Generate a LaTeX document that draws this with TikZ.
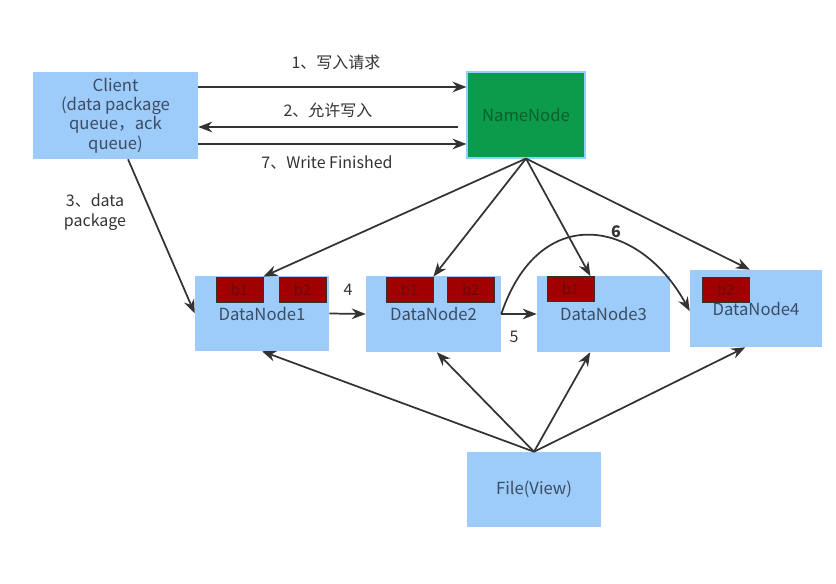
\documentclass[tikz,border=0pt]{standalone}
\usepackage{fontspec}
\setmainfont{Noto Sans CJK SC}
\usetikzlibrary{arrows.meta,calc}
\definecolor{boxblue}{HTML}{9DCBFA}
\definecolor{nngreen}{HTML}{0C9B4B}
\definecolor{nntext}{HTML}{0A5F2E}
\definecolor{txtblue}{HTML}{3B4D63}
\definecolor{blk}{HTML}{A00000}
\definecolor{blktext}{HTML}{6E0A0A}
\definecolor{arr}{HTML}{333333}
\begin{document}
\begin{tikzpicture}[x=0.75pt,y=-0.75pt,
  bluebox/.style={fill=boxblue,draw=none,text=txtblue,font=\fontsize{12.5}{14.5}\selectfont,align=center,inner sep=0pt},
  blockbox/.style={fill=blk,draw=black!80,line width=0.6pt,minimum width=35.25pt,minimum height=18.75pt,inner sep=0pt,text=blktext,font=\fontsize{11}{12}\selectfont},
  conn/.style={draw=arr,line width=1.3pt,-{Stealth[length=10.5pt,width=8pt]}},
  lbl/.style={text=arr,font=\fontsize{12}{15}\selectfont,align=center,inner sep=0pt}]
\useasboundingbox (0,0) rectangle (836,584);
\fill[white] (0,0) rectangle (836,584);

\node[bluebox,minimum width=123.75pt,minimum height=65.25pt] (client) at (115.5,115.5) {Client\\(data package\\queue，ack\\queue)};
\node[fill=nngreen,draw=boxblue,line width=0.8pt,minimum width=88.5pt,minimum height=64.5pt,text=nntext,font=\fontsize{12.5}{14}\selectfont,inner sep=0pt] (nn) at (526,115) {NameNode};

\node[bluebox,minimum width=100.5pt,minimum height=56.25pt] (d1) at (262,313.5) {\raisebox{-3pt}{DataNode1}};
\node[bluebox,minimum width=101.25pt,minimum height=57pt] (d2) at (433.5,314) {\raisebox{-3pt}{DataNode2}};
\node[bluebox,minimum width=99.75pt,minimum height=57pt] (d3) at (603.5,314) {\raisebox{-3pt}{DataNode3}};
\node[bluebox,minimum width=99pt,minimum height=57.75pt] (d4) at (756,308.5) {\raisebox{-3pt}{DataNode4}};
\node[bluebox,minimum width=100.5pt,minimum height=56.25pt] (file) at (534,489.5) {File(View)};

\node[blockbox] (d1b1) at (239.5,289.5) {b1};
\node[blockbox] (d1b2) at (302.5,289.5) {b2};
\node[blockbox] (d2b1) at (409.5,289.5) {b1};
\node[blockbox] (d2b2) at (471,289.5) {b2};
\node[blockbox] (d3b1) at (570.5,289) {b1};
\node[blockbox] (d4b2) at (726,289.5) {b2};

\coordinate (y87) at (0,87);
\coordinate (y127) at (0,127);
\coordinate (y144) at (0,144);

% client <-> namenode
\draw[conn] (client.east |- y87) -- (nn.west |- y87);
\draw[conn] ([xshift=-6pt]nn.west |- y127) -- (client.east |- y127);
\draw[conn] (client.east |- y144) -- (nn.west |- y144);
\node[lbl] (l1) at (336,62) {1、写入请求};
\node[lbl] (l2) at (328,110) {2、允许写入};
\node[lbl] (l7) at (327,163) {7、Write Finished};

% client -> DN1
\draw[conn] ([xshift=9.4pt]client.south) -- (d1.west);
\node[lbl] (l3) at (95,212) {3、data\\package};

% namenode -> datanodes
\draw[conn] (nn.south) -- (d1b1.north east);
\draw[conn] (nn.south) -- (d2b1.north east);
\draw[conn] (nn.south) -- ([xshift=-3pt]d3b1.north east);
\draw[conn] (nn.south) -- (d4b2.north east |- d4.north);

% pipeline
\draw[conn] (d1.east) -- (d2.west);
\node[lbl] (l4) at (348,290) {4};
\draw[conn] (d2.east) -- (d3.west);
\node[lbl] (l5) at (514,337) {5};
\coordinate (d4in) at ([yshift=-2pt]d4.west);
\draw[conn] (d2.east) .. controls (540,200) and (640,220) .. (d4in);
\node[lbl,font=\fontsize{12}{15}\selectfont\bfseries] (l6) at (616,232) {6};

% file -> datanodes
\draw[conn] (file.north) -- (d1.south);
\draw[conn] (file.north) -- ([xshift=2.5pt]d2.south);
\draw[conn] (file.north) -- ([xshift=-10pt]d3.south);
\draw[conn] (file.north) -- ([xshift=-8pt]d4.south);
\end{tikzpicture}
\end{document}
